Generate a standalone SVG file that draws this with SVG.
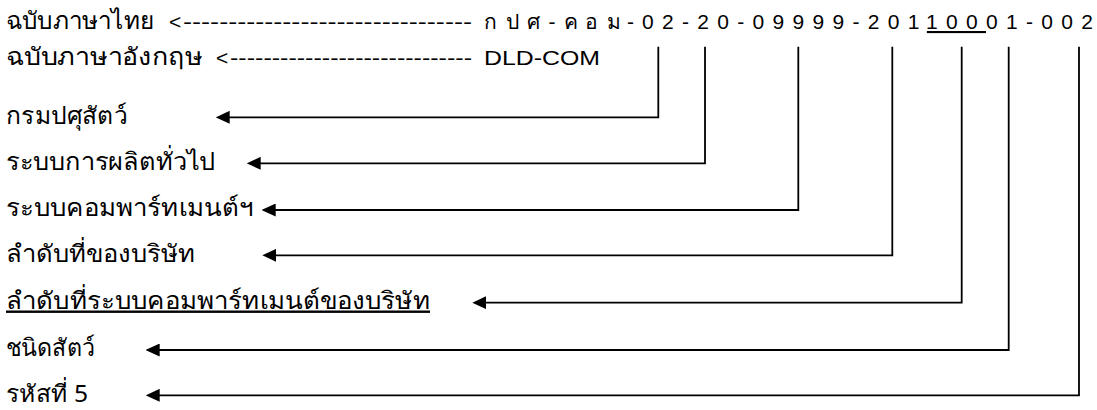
<svg xmlns="http://www.w3.org/2000/svg" width="1097" height="410" viewBox="0 0 1097 410">
  <style>
    .t { font-family: "Noto Sans", "Liberation Sans", sans-serif; font-size: 24px; fill: #000; }
    .c { font-family: "Liberation Sans", "Noto Sans", sans-serif; font-size: 21px; fill: #000; }
    .arr { fill: none; stroke: #000; stroke-width: 1.8; marker-end: url(#head); }
  </style>
  <defs>
    <marker id="head" markerUnits="userSpaceOnUse" markerWidth="14" markerHeight="13" refX="6" refY="6.5" orient="auto" viewBox="0 0 14 13">
      <path d="M0,0 L14,6.5 L0,13 Z" fill="#000"/>
    </marker>
  </defs>
  <rect width="1097" height="410" fill="#fff"/>

  <g id="header-thai">
    <text class="t" x="6" y="29" textLength="148" lengthAdjust="spacingAndGlyphs">ฉบับภาษาไทย</text>
    <text class="c" x="169" y="29">&lt;</text>
    <text class="c" x="183" y="29" textLength="289" lengthAdjust="spacingAndGlyphs">--------------------------------</text>
    <text class="c" y="29"><tspan x="484 505.5 527 548.5 563.5 585 606.5 627">กปศ-คอม-</tspan><tspan x="642" letter-spacing="8.3">02-20-09999-201<tspan text-decoration="underline">100</tspan>01-00<tspan letter-spacing="0">2</tspan></tspan></text>
  </g>

  <g id="header-english">
    <text class="t" x="6" y="65" textLength="197" lengthAdjust="spacingAndGlyphs">ฉบับภาษาอังกฤษ</text>
    <text class="c" x="216" y="65">&lt;</text>
    <text class="c" x="230" y="65" textLength="242" lengthAdjust="spacingAndGlyphs">-----------------------------</text>
    <text class="c" x="484" y="65" font-size="22" textLength="116" lengthAdjust="spacingAndGlyphs">DLD-COM</text>
  </g>

  <g id="label-dld">
    <text class="t" x="6" y="123.5" textLength="121" lengthAdjust="spacingAndGlyphs">กรมปศุสัตว์</text>
  </g>
  <g id="label-general">
    <text class="t" x="6" y="169.5" textLength="209" lengthAdjust="spacingAndGlyphs">ระบบการผลิตทั่วไป</text>
  </g>
  <g id="label-compartment">
    <text class="t" x="6" y="216" textLength="247" lengthAdjust="spacingAndGlyphs">ระบบคอมพาร์ทเมนต์ฯ</text>
  </g>
  <g id="label-company">
    <text class="t" x="6" y="261.5" textLength="189" lengthAdjust="spacingAndGlyphs">ลำดับที่ของบริษัท</text>
  </g>
  <g id="label-company-compartment">
    <text class="t" x="6" y="308.5" textLength="424" lengthAdjust="spacingAndGlyphs" text-decoration="underline">ลำดับที่ระบบคอมพาร์ทเมนต์ของบริษัท</text>
  </g>
  <g id="label-species">
    <text class="t" x="6" y="356" textLength="89" lengthAdjust="spacingAndGlyphs">ชนิดสัตว์</text>
  </g>
  <g id="label-code5">
    <text class="t" x="6" y="401.5" textLength="82" lengthAdjust="spacingAndGlyphs">รหัสที่ 5</text>
  </g>

  <g id="connectors">
    <path class="arr" d="M658.3,46.7 V117.3 H223.7"/>
    <path class="arr" d="M705,46.7 V163.3 H254.7"/>
    <path class="arr" d="M798.3,46.7 V210 H269.7"/>
    <path class="arr" d="M892.3,46.7 V255.3 H270.3"/>
    <path class="arr" d="M961.7,46.7 V302.7 H480.3"/>
    <path class="arr" d="M1008.7,46.7 V350 H153.7"/>
    <path class="arr" d="M1079,46.7 V395.3 H153.7"/>
  </g>
</svg>
